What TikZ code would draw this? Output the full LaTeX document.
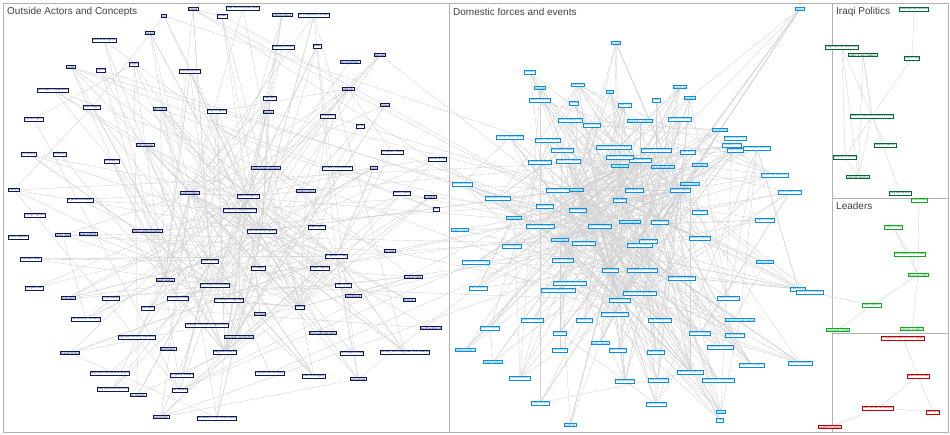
\documentclass[tikz,border=0pt]{standalone}
\usepackage{fontspec}
\setsansfont{Liberation Sans}
\pgfdeclarelayer{bg}
\pgfsetlayers{bg,main}
\begin{document}
\begin{tikzpicture}[x=1pt,y=-1pt,
  lbl/.style={draw,line width=0.7pt,fill=white,inner sep=0.7pt,font=\fontsize{3}{3.4}\selectfont\sffamily},
  onode/.style={lbl,draw=navy,text=navy},
  dnode/.style={lbl,draw=cyanb,text=cyanb},
  pnode/.style={lbl,draw=dgreen,text=dgreen},
  lnode/.style={lbl,draw=lgreen,text=lgreen},
  rnode/.style={lbl,draw=redb,text=redb},
  edge/.style={draw=gray!35,line width=0.35pt},
  title/.style={font=\fontsize{10}{11}\selectfont\sffamily,text=black!75,anchor=west,inner sep=0}]
\definecolor{navy}{HTML}{0A1A5C}
\definecolor{cyanb}{HTML}{0A8FE0}
\definecolor{dgreen}{HTML}{006633}
\definecolor{lgreen}{HTML}{10AA20}
\definecolor{redb}{HTML}{C00000}
\useasboundingbox (0,0) rectangle (950,435);
\begin{pgfonlayer}{bg}
\fill[white] (0,0) rectangle (950,435);
\draw[gray!60,line width=0.6pt] (3,3) rectangle (948,432);
\draw[gray!60,line width=0.6pt] (449,3)--(449,432) (832,3)--(832,432) (832,198)--(948,198) (832,333)--(948,333);
\end{pgfonlayer}
\node[title] (t1) at (7,12) {Outside Actors and Concepts};
\node[title] (t2) at (453,12) {Domestic forces and events};
\node[title] (t3) at (836,12) {Iraqi Politics};
\node[title] (t4) at (836,206) {Leaders};
% outside nodes
\foreach \x/\y/\t [count=\i] in {
240/210/2010-03\_Iraqi\_elections,190/193/united states,248/196/iraq insurgency,262/231/iran nuclear program,215/285/us troops withdrawal,225/352/baghdad attacks,336/256/al qaeda in iraq,210/261/syria border,300/307/turkey,165/280/saudi arabia,
164/16/oil,193/9/kuwait,243/8/iraq reconstruction plan,222/16/jordan,282/15/united nations,314/15/oil companies contract,104/40/sanctions regime,150/33/israel,190/71/unemployment,101/70/turkey,71/67/kurds,134/64/egypt,283/47/security council,317/46/qatar,380/55/bahrain,350/62/oil investment,348/89/lebanon,385/105/russia,92/107/arab league,53/90/gulf states cooperation,34/119/human rights,270/98/iraq debt,217/111/iraqi refugees,160/109/terrorism,328/116/oil exports,360/126/syria,29/154/UN envoy,60/154/oil prices,112/161/al arabiya,145/145/nato mission,268/112/france,266/168/united arab emirates,337/168/amnesty international,392/152/european union,14/190/yemen,80/200/al jazeera network,35/215/foreign fighters,306/191/britain forces,402/193/saudi royals,430/197/oil fields,18/237/kirkuk dispute,63/235/china deal,317/227/washington,374/168/iran,437/159/turkish army,436/209/pkk,31/259/iraq debt relief,88/234/arab summit,147/231/obama administration,320/268/syrian regime,390/251/al sadr,34/288/refugees aid,413/277/nuclear talks,258/268/pentagon,343/285/iraqi oil law,68/298/hezbollah,111/298/us embassy,178/298/us army in iraq,229/300/us troops in baghdad,353/296/world bank,409/300/imf loan,86/319/oil ministry contracts,148/308/petraeus,260/314/crocker,323/333/bush administration,431/328/saudi arabia oil,70/353/kuwait border,137/337/baghdad security operation,207/325/strategic framework agreement,239/337/american contractors,168/349/blackwater,182/375/al qaeda leaders,270/373/iraq war anniversary,352/353/us troops in iraq,110/373/baghdad international airport,405/352/january 2010 baghdad hotel attacks,113/389/iraq elections 2010 us,180/390/us military,138/395/un mission,161/417/iran border,217/418/embassy of the united states,314/376/iraq sovereignty,358/379/oil revenue}
  {\node[onode] (o\i) at (\x,\y) {\t};\xdef\onum{\i}}
% domestic nodes
\foreach \x/\y/\t [count=\i] in {
620/200/baghdad,600/226/sunni insurgents,640/245/ministry of interior,575/190/shiite militia,660/222/mahdi army,610/270/iraqi police,640/160/iraqi parliament,560/240/sunni tribes,680/190/kurdish region,620/300/security forces,
800/9/basra,616/43/mosul,530/72/fallujah,540/88/ramadi,578/85/samarra,610/92/tikrit,680/87/kirkuk oil,540/100/anbar province,574/103/diyala,625/105/sadr city,656/100/najaf,690/98/karbala,570/120/sunni awakening,592/125/sons of iraq,640/121/sectarian violence,680/119/suicide bombing,720/130/car bombs,735/138/iraqi army units,732/145/ministry of oil,510/137/kurdish peshmerga,548/140/green zone attack,562/150/displaced iraqis,614/147/iraqi election commission,620/157/ministry of defense,656/150/baghdad checkpoints,688/152/iraqi army,735/150/iraqi courts,757/148/oil revenue sharing,540/162/mosul operation,568/161/ministry of health,620/166/constitution,663/167/de-baathification,700/165/federalism,775/175/provincial elections,462/184/iraqi kurdistan,558/190/christians in iraq,634/190/shia pilgrims,690/184/basra militias,790/192/hydrocarbon law,498/198/baghdad markets,545/206/iraqi prisons,514/218/detainees,578/210/kidnappings,630/222/assassinations,700/212/corruption,540/226/electricity shortages,460/230/water crisis,512/246/oil smuggling,584/243/sunni politicians,648/241/shiite parties,700/238/kurdish parties,765/220/iraqi oil fields,476/262/baghdad university,563/260/iraqi journalists,642/270/baghdad governorate,682/278/iraqi national guard,765/262/anbar tribes,570/283/iraqi government forces,558/290/baghdad neighborhoods,640/293/iraqi security operations,728/298/iraqi oil ministry,798/289/iraqi kurds,478/288/iraqi soldiers,615/314/police commandos,532/320/interior ministry,584/320/dawa party,660/320/iraqi intelligence,740/320/election fraud claims,490/328/iraqi refugees,560/333/ayatollah,600/343/shiite clerics,700/333/sunni mosques,735/335/iraqi judiciary,465/350/militia leaders,560/350/bombings,618/350/iraqi cabinet,656/352/iraqi budget,720/347/provincial councils,493/362/tribal sheikhs,625/381/iraq oil output,658/380/iraqi army day,520/378/iraqi ministries,718/380/iraqi kurdish leadership,690/372/baghdad governor,752/365/iraq reconciliation,800/363/basra operations,540/403/iraqi olympic,656/404/iraqi elections,721/412/mosul,570/425/sadrists,720/420/iraq}
  {\node[dnode] (d\i) at (\x,\y) {\t};\xdef\dnum{\i}}
% politics
\foreach \x/\y/\t [count=\i] in {
914/9/iraqi national alliance,842/47/iraqi national movement,863/55/state of law coalition,912/58/iraq in iraq,872/116/islamic supreme council of iraq,885/145/iraqiya coalition,845/157/iraqi accordance,858/177/national alliance,900/193/iraqi parliament}
  {\node[pnode] (p\i) at (\x,\y) {\t};}
\foreach \x/\y/\t [count=\i] in {
919/200/ayad allawi,893/227/maliki in iraq,910/254/jalal talabani president,918/275/nouri al-maliki,872/305/tariq hashimi,838/330/adil abdul mahdi,912/329/ammar al-hakim}
  {\node[lnode] (l\i) at (\x,\y) {\t};}
\node[dnode] (dx) at (810,292) {iraqi vice president};
\foreach \x/\y/\t [count=\i] in {
903/338/moqtada al-sadr ahmed chalabi,918/376/saleh al-mutlaq,878/408/abu musab al-zarqawi,933/412/tariq aziz,830/427/saddam hussein}
  {\node[rnode] (r\i) at (\x,\y) {\t};}
% edges
\begin{pgfonlayer}{bg}
\pgfmathsetseed{11}
\foreach \k in {1,...,230}{
  \pgfmathrandominteger{\a}{1}{10}\pgfmathrandominteger{\b}{1}{\onum}
  \draw[edge] (o\a) -- (o\b);}
\foreach \k in {1,...,40}{
  \pgfmathrandominteger{\a}{11}{\onum}\pgfmathrandominteger{\b}{1}{\onum}
  \draw[edge] (o\a) -- (o\b);}
\foreach \k in {1,...,380}{
  \pgfmathrandominteger{\a}{1}{10}\pgfmathrandominteger{\b}{1}{\dnum}
  \draw[edge] (d\a) -- (d\b);}
\foreach \k in {1,...,120}{
  \pgfmathrandominteger{\a}{11}{\dnum}\pgfmathrandominteger{\b}{11}{\dnum}
  \draw[edge] (d\a) -- (d\b);}
\foreach \k in {1,...,35}{
  \pgfmathrandominteger{\a}{1}{10}\pgfmathrandominteger{\b}{1}{\onum}
  \draw[edge] (d\a) -- (o\b);}
\foreach \a/\b in {p5/p2,p5/p3,p5/p6,p5/p7,p5/p8,p5/p9,p4/p1,p4/p5,p2/p7,p3/p8,p7/p8,p2/p8,p3/p5,
  l1/l4,l2/l4,l3/l4,l2/l3,l4/l5,l5/dx,l4/l7,l5/l6,
  r1/r2,r2/r3,r2/r4,r3/r4,r3/r5,d1/dx,d9/dx}
  \draw[edge] (\a) -- (\b);
\end{pgfonlayer}
\end{tikzpicture}
\end{document}
